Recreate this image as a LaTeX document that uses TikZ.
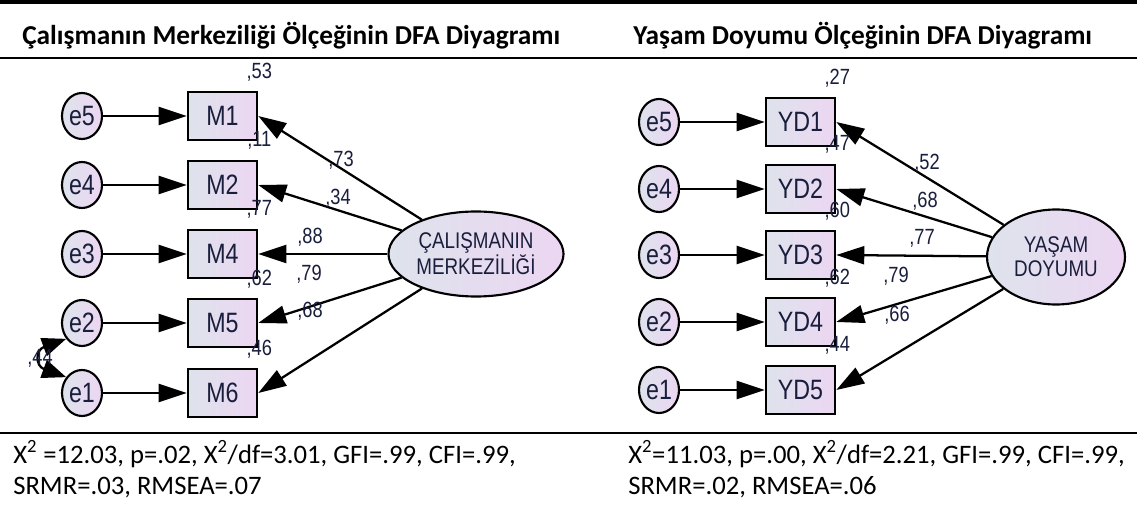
\documentclass[tikz,border=0pt]{standalone}
\usepackage{fontspec}
\setmainfont{Carlito}
\newfontfamily\amosfont[FakeStretch=0.83]{Liberation Sans}
\usepackage{tikz}
\usetikzlibrary{arrows.meta,shapes.geometric}
\definecolor{amostext}{RGB}{25,30,60}
\definecolor{shadeleft}{RGB}{222,227,236}
\definecolor{shaderight}{RGB}{236,214,242}
\tikzstyle{observed}=[rectangle,draw,line width=1.9pt,left color=shadeleft,right color=shaderight,minimum width=51.75pt,minimum height=36pt,inner sep=0pt,text=amostext,font=\amosfont\fontsize{21}{22}\selectfont]
\tikzstyle{error}=[ellipse,draw,line width=1.6pt,left color=shadeleft,right color=shaderight,minimum width=30pt,minimum height=34.5pt,inner sep=0pt,text=amostext,font=\amosfont\fontsize{21}{22}\selectfont]
\tikzstyle{latent}=[ellipse,draw,line width=1.6pt,left color=shadeleft,right color=shaderight,inner sep=0pt,align=center,text=amostext,font=\amosfont\fontsize{17}{18}\selectfont]
\tikzstyle{coef}=[inner sep=0pt,text=amostext,font=\amosfont\fontsize{16.5}{17}\selectfont]
\tikzstyle{regpath}=[draw,line width=1.7pt,-{Triangle[length=21pt,width=13.5pt]}]
\tikzstyle{covpath}=[draw,line width=1.7pt,{Triangle[length=18pt,width=14pt]}-{Triangle[length=18pt,width=14pt]}]
\tikzstyle{rule}=[draw,line width=2pt]
\tikzstyle{title}=[inner sep=0pt,anchor=base west,font=\bfseries\fontsize{20.5}{22}\selectfont]
\tikzstyle{fitnote}=[inner sep=0pt,anchor=base west,font=\fontsize{20}{22}\selectfont]

\begin{document}
\begin{tikzpicture}[x=0.75pt,y=-0.75pt]
    \path[fill=white,use as bounding box] (0,0) rectangle (1137,509);
    % table rules and headings
    \path[rule,line width=2.4pt] (0,2) -- (1137,2);
    \path[rule] (0,58) -- (1137,58);
    \path[rule] (0,433) -- (1137,433);
    \node[title] (headCM) at (22,45) {Çalışmanın Merkeziliği Ölçeğinin DFA Diyagramı};
    \node[title] (headYD) at (633,45) {Yaşam Doyumu Ölçeğinin DFA Diyagramı};

    % First we draw the left model
    \foreach \name/\y in {e5/116, e4/185, e3/254, e2/323, e1/393}
        \node[error] (L\name) at (82,\y) {\name};
    \foreach \name/\y in {M1/116, M2/185, M4/254, M5/323, M6/393}
        \node[observed] (\name) at (222.5,\y) {\name};
    \node[latent,minimum width=131.25pt,minimum height=63.75pt] (CM) at (476,254) {ÇALIŞMANIN\\MERKEZİLİĞİ};

    % Then the right model
    \foreach \name/\y in {e5/122, e4/189, e3/255, e2/322, e1/390}
        \node[error] (R\name) at (659,\y) {\name};
    \foreach \name/\y in {YD1/122, YD2/189, YD3/255, YD4/322, YD5/390}
        \node[observed] (\name) at (800.5,\y) {\name};
    \node[latent,minimum width=103.5pt,minimum height=71.25pt] (YD) at (1056,257) {YAŞAM\\DOYUMU};

    % Connect errors and latents with the items
    \foreach \source/ \dest in {Le5/M1, Le4/M2, Le3/M4, Le2/M5, Le1/M6, Re5/YD1, Re4/YD2, Re3/YD3, Re2/YD4, Re1/YD5}
        \path[regpath] (\source) -- (\dest);
    \foreach \dest in {M1, M2, M4, M5, M6}
        \path[regpath] (CM) -- (\dest.east);
    \foreach \dest in {YD1, YD2, YD3, YD4, YD5}
        \path[regpath] (YD) -- (\dest.east);
    \path[covpath] (Le2.225) to[out=200,in=160,looseness=2.2] (Le1.135);

    % Estimates
    \foreach \name/\val in {M1/53, M2/11, M4/77, M5/62, M6/46, YD1/27, YD2/47, YD3/60, YD4/62, YD5/44}
        \node[coef] (r\name) at ([shift={(1,-19)}]\name.north east) {,\val};
    \foreach \name/\pos/\val in {M1/{(341,160)}/73, M2/{(338,198)}/34, M4/{(310,237)}/88, M5/{(309,274)}/79, M6/{(310,311)}/68,
                                 YD1/{(927,163)}/52, YD2/{(925,201)}/68, YD3/{(922,238)}/77, YD4/{(896,276)}/79, YD5/{(897,315)}/66}
        \node[coef] (l\name) at \pos {,\val};
    \node[coef] (cov12) at (40,358) {,44};

    % fit indices
    \node[fitnote] (fitCMa) at (13,463) {X\textsuperscript{2} =12.03, p=.02, X\textsuperscript{2}/df=3.01, GFI=.99, CFI=.99,};
    \node[fitnote] (fitCMb) at (13,494) {SRMR=.03, RMSEA=.07};
    \node[fitnote] (fitYDa) at (628,463) {X\textsuperscript{2}=11.03, p=.00, X\textsuperscript{2}/df=2.21, GFI=.99, CFI=.99,};
    \node[fitnote] (fitYDb) at (628,494) {SRMR=.02, RMSEA=.06};
\end{tikzpicture}
\end{document}
